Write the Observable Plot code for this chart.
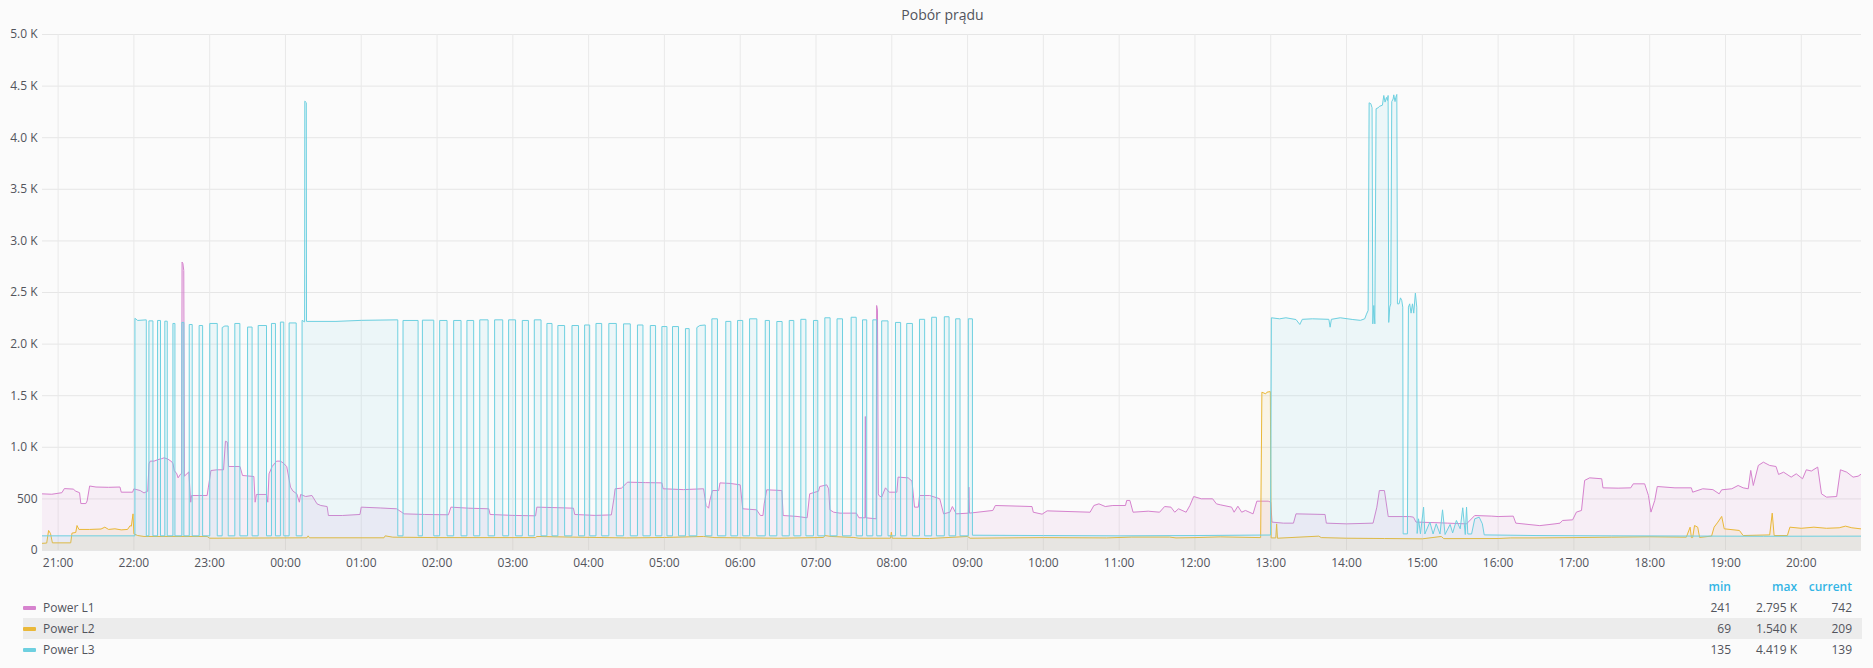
<!DOCTYPE html>
<html>
<head>
<meta charset="utf-8">
<script src="https://cdn.jsdelivr.net/npm/d3@7"></script>
<script src="https://cdn.jsdelivr.net/npm/@observablehq/plot@0.6"></script>
<style>
html,body{margin:0;padding:0;background:#fbfbfb;}
body{width:1873px;height:668px;overflow:hidden;font-family:"Open Sans",sans-serif;color:#52545c;position:relative;}
#title{height:24px;box-sizing:border-box;padding:5px 0 0 12px;line-height:20px;text-align:center;font-size:14px;color:#52545c;}
#chart svg{display:block;}
#legend{position:absolute;left:0;top:577px;width:1873px;font-size:12px;}
.lrow{position:absolute;left:23px;width:1839px;height:21px;line-height:21px;}
.lrow.alt{background:#ececec;}
.sw{position:absolute;left:0;top:9px;width:13px;height:4px;border-radius:1px;}
.lname{position:absolute;left:20px;top:0;white-space:nowrap;}
.val{position:absolute;top:0;text-align:right;white-space:nowrap;}
.hdr{color:#33b5e5;font-weight:600;}
</style>
</head>
<body>
<div id="title"></div>
<div id="chart"></div>
<div id="legend"></div>
<script>
// ---------- texts ----------
const chartTitle = "Pobór prądu";
const seriesNames = ["Power L1", "Power L2", "Power L3"];
const seriesColors = ["#D683CE", "#EAB839", "#6ED0E0"];
const statHeaders = ["min", "max", "current"];
const statMin = ["241", "69", "135"];
const statMax = ["2.795 K", "1.540 K", "4.419 K"];
const statCurrent = ["742", "209", "139"];
const yTicks = [0, 500, 1000, 1500, 2000, 2500, 3000, 3500, 4000, 4500, 5000];
const yTickLabels = ["0", "500", "1.0 K", "1.5 K", "2.0 K", "2.5 K", "3.0 K", "3.5 K", "4.0 K", "4.5 K", "5.0 K"];
const windowStart = "20:47:40"; // 24 h window

// ---------- series (time, watts), chronological; a smaller clock time means next day ----------
const L1 = [
["20:47",549],["20:55",545],["21:03",560],["21:05",600],["21:12",595],["21:14",575],["21:17",560],["21:18",455],["21:22",455],["21:23",480],["21:25",625],["21:30",615],["21:40",612],["21:49",615],["21:50",565],["21:59",565],
["22:00",597],["22:05",581],["22:08",558],["22:11",575],["22:12",840],["22:13",866],["22:16",866],["22:19",880],["22:22",890],["22:24",898],["22:27",885],["22:30",860],["22:31",840],["22:32",775],["22:34",743],["22:35",704],["22:37",740],["22:37:50",745],["22:38:10",2795],["22:38:50",2780],["22:39:30",2713],["22:40",720],["22:43:30",761],["22:45",468],["22:45:40",533],["22:58",533],["22:59",614],
["23:01",775],["23:06",782],["23:11",782],["23:12:30",1059],["23:14",1050],["23:15",814],["23:24",814],["23:26",727],["23:35",717],["23:36",468],["23:37",543],["23:45",543],["23:46",468],["23:47",743],["23:49:30",814],["23:53",866],["23:56",866],["23:58",850],
["00:01",814],["00:04",614],["00:06",575],["00:09",549],["00:11",468],["00:12",543],["00:16",523],["00:21",533],["00:25",452],["00:28",436],["00:33",426],["00:34",339],["00:45",339],["00:59",349],
["01:00",420],["01:15",412],["01:28",404],["01:34",355],["01:50",349],["02:09",346],["02:11",420],["02:25",410],["02:41",404],["02:42",349],["03:00",340],["03:18",336],["03:19",420],["03:35",415],["03:48",410],["03:49",349],
["04:05",340],["04:18",345],["04:20",501],["04:21",598],["04:26",604],["04:30",652],["04:31",662],["04:45",658],["04:58",655],["04:59",598],["05:15",590],["05:31",598],["05:33",436],["05:35",410],["05:36",485],["05:38",581],["05:43",581],["05:44",655],["05:52",650],
["06:00",636],["06:02",404],["06:13",394],["06:16",339],["06:18",339],["06:19",452],["06:21",588],["06:33",581],["06:34",339],["06:45",330],["06:53",317],["06:55",549],["07:02",575],["07:03",620],["07:08:30",636],["07:10",598],["07:11",394],["07:14",371],["07:19",362],["07:32",362],["07:34",317],["07:38:50",317],["07:39:05",1298],["07:39:20",317],["07:47:40",307],["07:48",2374],["07:48:40",2330],["07:49:20",549],["07:50",530],["07:52",517],["07:55",607],["07:58",565],
["08:04",565],["08:05",711],["08:13",704],["08:16",672],["08:18",420],["08:21",420],["08:22",533],["08:30",533],["08:38",501],["08:41",355],["08:46",371],["08:48",426],["08:51",355],["09:00:40",362],["09:01",614],["09:01:30",362],["09:20",388],["09:22",436],["09:51",426],["09:52",371],["09:59",352],
["10:03",384],["10:37",371],["10:40",436],["10:44",452],["10:49",426],["10:55",436],["11:05",436],["11:06",485],["11:08:30",485],["11:11",371],["11:23",381],["11:32",371],["11:36",426],["11:41",420],["11:44",371],["11:47",404],["11:53",371],["11:56",436],["11:59",523],
["12:05",501],["12:14",501],["12:17",452],["12:20",443],["12:29",420],["12:31",371],["12:34",429],["12:37",371],["12:40",388],["12:46",355],["12:49",478],["12:58",478],["13:00",468],["13:01",275],["13:10",265],["13:18",265],["13:20",355],["13:43",349],["13:44",265],
["14:00",258],["14:21",265],["14:24",420],["14:26",581],["14:30",581],["14:33",329],["14:50",329],["14:53",323],["14:55",275],["15:10",270],["15:20",265],["15:35",258],["15:41:30",339],["15:55",333],["16:00",329],["16:12",333],["16:14",265],["16:33",241],["16:45",258],["16:49",265],["16:51",291],["16:59",297],
["17:02",372],["17:06",388],["17:08:30",679],["17:12:30",704],["17:22",695],["17:23",607],["17:35",604],["17:45",607],["17:47",646],["17:56",646],["17:59",533],["18:01",372],["18:04",485],["18:06",620],["18:20",607],["18:33",607],["18:34",565],["18:42",598],["18:50",590],["18:55",549],["18:57",588],
["19:05",598],["19:10",630],["19:14",607],["19:18",598],["19:20",776],["19:22",630],["19:26",824],["19:30",856],["19:35",824],["19:40",814],["19:42",737],["19:46",759],["19:52",711],["19:56",743],
["20:01",695],["20:04",782],["20:08",770],["20:13",808],["20:16",549],["20:20",517],["20:28",523],["20:31",782],["20:36",759],["20:41",711],["20:45",720],["20:47:40",742]
];

const L2 = [
["20:47",69],["20:51",72],["20:52:30",194],["20:54",165],["20:55:30",74],["21:10",74],["21:11",168],["21:14",175],["21:15",242],["21:16:30",204],["21:25",204],["21:34",208],["21:37",226],["21:40",204],["21:45",210],["21:50",200],["21:55",204],["21:57",240],["21:58",236],["21:59:20",355],
["22:00",162],["22:03",145],["22:08",136],["22:58",136],["23:00",119],["00:17",123],["00:18",142],["00:19",123],["01:18",123],["01:19",142],["01:25",129],["02:00",125],["03:18",125],["03:19",136],["03:50",129],["04:30",122],["05:00",126],["05:31",136],["05:40",125],
["06:30",119],["07:06",126],["07:07",145],["07:12",136],["07:30",126],["07:34",119],["07:59",119],["07:59:40",178],["08:00:20",119],["08:30",116],["09:00",136],["09:02",119],["10:00",125],["10:50",122],["11:10",130],["11:40",130],["11:45",122],["12:00",125],["12:20",132],["12:52",125],
["12:53",1534],["12:56",1518],["12:57",1534],["12:59:40",1540],["13:00:20",122],["13:04",122],["13:04:40",258],["13:05:20",119],["13:38",139],["13:40",125],["14:00",119],["14:30",116],["15:00",113],["15:15",136],["15:17",115],["16:00",116],["16:10",122],["16:30",122],
["17:00",125],["17:30",129],["18:00",133],["18:29",129],["18:32",226],["18:33",125],["18:34",125],["18:35:30",242],["18:38",226],["18:39:30",126],["18:49",140],["18:51",226],["18:54",275],["18:57",330],["18:59",210],["19:11",194],["19:14",145],["19:35",151],["19:37",362],["19:38:30",145],["19:49",145],["19:51",226],
["20:00",215],["20:10",226],["20:20",215],["20:30",220],["20:35",236],["20:40",220],["20:47:40",209]
];

const L3 = [
["20:47",142],["22:00:50",142],
["22:00:50",2250],["22:03",2229],["22:09:50",2235],["22:09:50",142],
["22:11:55",142],["22:11:55",2225],["22:15:05",2225],["22:15:05",142],
["22:18:45",142],["22:18:45",2229],["22:21:05",2229],["22:21:05",142],
["22:24:30",142],["22:24:30",2222],["22:26:25",2222],["22:26:25",142],
["22:30:55",142],["22:30:55",2200],["22:32:30",2200],["22:32:30",142],
["22:38:00",142],["22:38:00",2210],["22:39:35",2210],["22:39:35",142],
["22:43:50",142],["22:43:50",2190],["22:46:10",2190],["22:46:10",142],
["22:51:40",142],["22:51:40",2180],["22:54:25",2180],["22:54:25",142],
["23:00:05",142],["23:00:05",2200],["23:06:00",2200],["23:06:00",142],
["23:09:55",142],["23:09:55",2160],["23:12",2175],["23:14:40",2175],["23:14:40",142],
["23:19:55",142],["23:19:55",2200],["23:23:55",2200],["23:23:55",142],
["23:30:00",142],["23:30:00",2165],["23:33:35",2165],["23:33:35",142],
["23:38:25",142],["23:38:25",2180],["23:45:00",2180],["23:45:00",142],
["23:48:55",142],["23:48:55",2200],["23:52:05",2200],["23:52:05",142],
["23:56:00",142],["23:56:00",2213],["23:58:40",2213],["23:58:40",142],
["00:02:55",142],["00:02:55",2205],["00:08:30",2205],["00:08:30",142],
["00:13:10",142],["00:13:10",2230],["00:15:10",2215],["00:15:20",4354],["00:16:30",4340],["00:16:40",2220],["00:40",2220],["01:00",2230],["01:28:55",2235],["01:28:55",142],
["01:33:05",142],["01:33:05",2229],["01:45:00",2229],["01:45:00",142],
["01:48:25",142],["01:48:25",2232],["01:57:25",2232],["01:57:25",142],
["02:02:05",142],["02:02:05",2229],["02:07:55",2229],["02:07:55",142],
["02:13:10",142],["02:13:10",2229],["02:19:00",2229],["02:19:00",142],
["02:23:40",142],["02:23:40",2229],["02:29:00",2229],["02:29:00",142],
["02:33:50",142],["02:33:50",2235],["02:40:25",2235],["02:40:25",142],
["02:45:35",142],["02:45:35",2235],["02:52:00",2235],["02:52:00",142],
["02:56:40",142],["02:56:40",2235],["03:02:10",2235],["03:02:10",142],
["03:07:30",142],["03:07:30",2229],["03:12:20",2229],["03:12:20",142],
["03:17:00",142],["03:17:00",2235],["03:22:20",2235],["03:22:20",142],
["03:27:00",142],["03:27:00",2200],["03:31:00",2200],["03:31:00",142],
["03:35:40",142],["03:35:40",2180],["03:41:00",2180],["03:41:00",142],
["03:46:50",142],["03:46:50",2180],["03:52:00",2180],["03:52:00",142],
["03:56:50",142],["03:56:50",2185],["04:00:50",2185],["04:00:50",142],
["04:05:50",142],["04:05:50",2200],["04:10:20",2200],["04:10:20",142],
["04:16:00",142],["04:16:00",2200],["04:21:55",2200],["04:21:55",142],
["04:27:40",142],["04:27:40",2196],["04:33:00",2196],["04:33:00",142],
["04:38:40",142],["04:38:40",2185],["04:43:00",2185],["04:43:00",142],
["04:48:50",142],["04:48:50",2180],["04:53:00",2180],["04:53:00",142],
["04:58:00",142],["04:58:00",2170],["05:02:00",2170],["05:02:00",142],
["05:06:25",142],["05:06:25",2170],["05:11:10",2170],["05:11:10",142],
["05:16:40",142],["05:16:40",2150],["05:19:35",2150],["05:19:35",142],
["05:25:40",142],["05:25:40",2160],["05:28",2180],["05:32:20",2185],["05:32:20",142],
["05:37:35",142],["05:37:35",2245],["05:42:00",2245],["05:42:00",142],
["05:48:35",142],["05:48:35",2220],["05:52:35",2220],["05:52:35",142],
["05:57:55",142],["05:57:55",2229],["06:02:00",2229],["06:02:00",142],
["06:07:25",142],["06:07:25",2245],["06:13:10",2245],["06:13:10",142],
["06:19:50",142],["06:19:50",2229],["06:23:10",2229],["06:23:10",142],
["06:29:00",142],["06:29:00",2219],["06:33:10",2219],["06:33:10",142],
["06:38:50",142],["06:38:50",2229],["06:42:25",2229],["06:42:25",142],
["06:48:00",142],["06:48:00",2240],["06:52:00",2240],["06:52:00",142],
["06:58:00",142],["06:58:00",2229],["07:01:25",2229],["07:01:25",142],
["07:07:00",142],["07:07:00",2255],["07:11:10",2255],["07:11:10",142],
["07:16:40",142],["07:16:40",2245],["07:21:00",2245],["07:21:00",142],
["07:27:50",142],["07:27:50",2260],["07:31:50",2260],["07:31:50",142],
["07:36:50",142],["07:36:50",2235],["07:40:10",2235],["07:40:10",142],
["07:45:00",142],["07:45:00",2235],["07:48:05",2235],["07:48:05",142],
["07:52:00",142],["07:52:00",2225],["07:57:00",2225],["07:57:00",142],
["08:02:55",142],["08:02:55",2210],["08:07:00",2210],["08:07:00",142],
["08:11:50",142],["08:11:50",2200],["08:16:20",2200],["08:16:20",142],
["08:21:55",142],["08:21:55",2240],["08:26:00",2240],["08:26:00",142],
["08:31:35",142],["08:31:35",2260],["08:35:20",2260],["08:35:20",142],
["08:41:35",142],["08:41:35",2265],["08:45:20",2265],["08:45:20",142],
["08:50:35",142],["08:50:35",2245],["08:54:00",2245],["08:54:00",142],
["09:00:35",142],["09:00:35",2245],["09:03:50",2245],["09:03:50",148],
["10:00",145],["11:00",142],["12:00",145],["12:59:50",150],
["13:00:30",2255],["13:07",2245],["13:12",2255],["13:20",2238],["13:23",2190],["13:25",2240],["13:33",2245],["13:46",2240],["13:47",2164],["13:48",2240],["13:55",2255],["14:05",2238],["14:11",2230],
["14:14:24",2245],["14:15:48",2290],["14:17:06",2326],["14:17:54",4338],["14:19:12",4330],["14:20:12",4290],["14:20:48",2196],["14:21:36",2374],["14:22:24",2196],["14:23:24",4280],["14:25",4290],["14:26:18",4305],["14:28:24",4315],["14:29:30",4409],["14:30:30",4345],["14:31:36",4390],["14:32:24",4360],["14:32:54",4409],["14:33:24",2210],["14:34:12",2358],["14:35",2390],["14:35:48",4350],["14:36:54",4375],["14:37:24",4415],["14:38:24",4350],["14:39",4390],["14:39:48",4419],["14:40:18",2390],["14:41:36",2390],["14:42:42",2448],["14:43:42",2423],["14:44:30",2358],["14:44:48",161],
["14:48:12",161],["14:49",2358],["14:50",2390],["14:51:06",2300],["14:52:12",2390],["14:53:12",2300],["14:54:30",2494],["14:55:36",2358],["14:55:54",165],
["14:57",307],["14:58:30",162],["15:01",420],["15:02",160],["15:06",275],["15:08:30",160],["15:11",259],["15:14",160],["15:16",394],["15:18",155],["15:22",253],["15:24",170],["15:27",291],["15:30",210],["15:32",414],["15:34",155],["15:35",420],["15:36",160],["15:39",160],["15:41:30",307],["15:45",323],["15:47:30",259],["15:49",151],
["16:30",145],["17:30",142],["18:30",140],["19:30",138],["20:47:40",139]
];

// ---------- build ----------
function toRows(pairs, name) {
  let day = 0, prev = -1;
  return pairs.map(([t, v]) => {
    const [h, m, s = 0] = t.split(":").map(Number);
    const tod = h * 3600 + m * 60 + s;
    if (tod < prev) day++;
    prev = tod;
    return {date: new Date(Date.UTC(2019, 0, 1 + day, h, m, s)), value: v, series: name};
  });
}
const series = [L1, L2, L3].map((p, i) => toRows(p, seriesNames[i]));
const [sh, sm, ss] = windowStart.split(":").map(Number);
const tStart = new Date(Date.UTC(2019, 0, 1, sh, sm, ss));
const tEnd = new Date(Date.UTC(2019, 0, 2, sh, sm, ss));
const hourTicks = d3.utcHours(tStart, tEnd);

document.getElementById("title").textContent = chartTitle;

const marks = [
  Plot.gridY(yTicks, {stroke: "#e6e6e6", strokeOpacity: 1}),
  Plot.gridX(hourTicks, {stroke: "#e9e9e9", strokeOpacity: 1})
];
series.forEach((rows, i) => {
  marks.push(Plot.areaY(rows, {x: "date", y1: 0, y2: "value", fill: seriesColors[i], fillOpacity: 0.1, clip: true}));
  marks.push(Plot.lineY(rows, {x: "date", y: "value", stroke: seriesColors[i], strokeWidth: 1, clip: true}));
});
marks.push(Plot.axisY(yTicks, {label: null, tickSize: 0, tickPadding: 5, tickFormat: d => yTickLabels[yTicks.indexOf(d)]}));
marks.push(Plot.axisX(hourTicks, {label: null, tickSize: 0, tickPadding: 8, tickFormat: d3.utcFormat("%H:%M")}));

const chart = Plot.plot({
  width: 1873,
  height: 552,
  marginLeft: 42,
  marginRight: 12,
  marginTop: 10,
  marginBottom: 26,
  x: {type: "utc", domain: [tStart, tEnd], label: null},
  y: {domain: [0, 5000], label: null},
  style: {background: "transparent", fontFamily: "'Open Sans', sans-serif", fontSize: "12px", color: "#52545c", overflow: "visible"},
  marks
});
document.getElementById("chart").appendChild(chart);

// ---------- legend ----------
const legend = document.getElementById("legend");
const colRight = [1731, 1797, 1852];
function addVals(row, vals, extraClass) {
  vals.forEach((v, j) => {
    const d = document.createElement("div");
    d.className = "val" + (extraClass ? " " + extraClass : "");
    d.style.right = (1862 - colRight[j]) + "px";
    d.textContent = v;
    row.appendChild(d);
  });
}
const hdr = document.createElement("div");
hdr.className = "lrow";
hdr.style.top = "0px";
hdr.style.height = "20px";
hdr.style.lineHeight = "20px";
addVals(hdr, statHeaders, "hdr");
legend.appendChild(hdr);
seriesNames.forEach((name, i) => {
  const row = document.createElement("div");
  row.className = "lrow" + (i === 1 ? " alt" : "");
  row.style.top = (20 + i * 21) + "px";
  const sw = document.createElement("div");
  sw.className = "sw";
  sw.style.background = seriesColors[i];
  row.appendChild(sw);
  const nm = document.createElement("div");
  nm.className = "lname";
  nm.textContent = name;
  row.appendChild(nm);
  addVals(row, [statMin[i], statMax[i], statCurrent[i]]);
  legend.appendChild(row);
});
</script>
</body>
</html>
